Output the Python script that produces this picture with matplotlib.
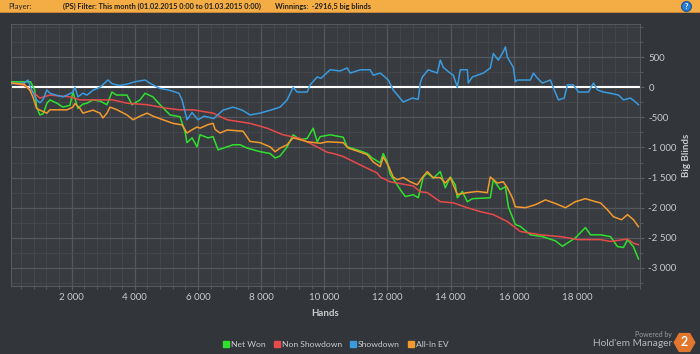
import matplotlib
matplotlib.use("Agg")
import matplotlib.pyplot as plt
from matplotlib.ticker import FixedLocator, MultipleLocator, FuncFormatter
from matplotlib.patches import Rectangle

plt.rcParams["font.family"] = ["Lato", "DejaVu Sans"]

# ---------------- data ----------------
showdown_hands = [100, 500, 615, 700, 891, 995, 1100, 1217, 1312, 1500, 1724, 1900, 2041, 2105, 2200, 2358,
                  2485, 2675, 2898, 3150, 3278, 3500, 3753, 4000, 4324, 4500, 4800, 5100, 5400, 5497, 5655,
                  5814, 6000, 6200, 6500, 6796, 7113, 7400, 7652, 7969, 8300, 8603, 8825, 9015, 9142, 9459,
                  9554, 9776, 9900, 10188, 10500, 10728, 10823, 11140, 11456, 11552, 11773, 11900, 12027,
                  12185, 12503, 12788, 12978, 13042, 13105, 13295, 13580, 13675, 13770, 13950, 14088, 14214,
                  14310, 14532, 14563, 14690, 15038, 15260, 15355, 15514, 15672, 15736, 15799, 15989, 16053,
                  16116, 16528, 16623, 16750, 16909, 17162, 17257, 17416, 17600, 17701, 17891, 18050, 18367,
                  18526, 18653, 18843, 19065, 19319, 19477, 19699, 19858, 19950]
showdown_vals = [60, 70, 120, 0, -210, -260, -200, -45, -100, -130, -160, -120, -80, 0, -160, -100,
                 -130, -50, 0, 120, 60, 30, 50, 90, 120, 60, -20, -50, -100, -210, -540,
                 -420, -540, -480, -520, -380, -330, -380, -460, -430, -380, -330, -210, 0, -80, -80,
                 40, 170, 150, 290, 270, 320, 235, 290, 290, 200, 235, 180, 120,
                 -45, -245, -180, -200, 70, 170, 290, 235, 450, 330, 250, 200, 0,
                 290, 290, 70, 170, 235, 320, 560, 450, 590, 670, 500, 330, 90,
                 120, 120, 235, 150, 70, 120, -10, -210, -180, 40, 40, -80, -80,
                 70, -45, -80, -100, -130, -210, -180, -245, -290]

nonsd_hands = [100, 500, 700, 995, 1312, 1946, 2263, 3309, 3753, 4387, 5021, 5433, 5845, 6479, 6923, 7652,
               8191, 8698, 9237, 9776, 10093, 10284, 10601, 11140, 11678, 11773, 12090, 12407, 12820, 13042,
               13263, 13675, 14088, 14532, 14943, 15355, 15799, 16211, 16845, 17479, 18050, 18748, 19065,
               19604, 19794, 19950]
nonsd_vals = [70, 30, -45, -180, -130, -160, -210, -210, -265, -290, -350, -375, -375, -430, -540, -600,
              -680, -790, -850, -990, -1080, -1100, -1150, -1290, -1425, -1490, -1570, -1600, -1640, -1735,
              -1750, -1900, -1920, -2000, -2065, -2115, -2230, -2395, -2450, -2480, -2530, -2530, -2560,
              -2520, -2590, -2615]

netwon_hands = [100, 700, 830, 891, 995, 1100, 1217, 1312, 1534, 1724, 1946, 2041, 2200, 2358, 2485, 2675,
                2900, 3119, 3278, 3420, 3753, 3912, 4165, 4324, 4577, 4799, 5116, 5433, 5592, 5655, 5814,
                5972, 6067, 6321, 6479, 6638, 6923, 7113, 7335, 7557, 7969, 8286, 8445, 8603, 8825, 9015,
                9237, 9459, 9650, 9776, 9871, 10188, 10601, 10728, 11045, 11362, 11520, 11773, 11869, 11995,
                12090, 12249, 12407, 12566, 12820, 12978, 13137, 13263, 13454, 13675, 13834, 13992, 14151,
                14214, 14373, 14532, 14690, 15260, 15355, 15577, 15736, 15831, 16053, 16211, 16528, 16909,
                17321, 17543, 17955, 18272, 18431, 18748, 19065, 19287, 19477, 19604, 19794, 19950]
netwon_vals = [90, 90, -45, -330, -460, -440, -265, -210, -265, -330, -300, -80, -350, -280, -265, -210,
               -230, -290, -80, -130, -130, -290, -210, -100, -160, -290, -460, -490, -740, -920, -840,
               -990, -790, -840, -820, -1040, -990, -955, -955, -1010, -1070, -1100, -1175, -1140, -990, -790,
               -870, -850, -680, -905, -820, -790, -830, -990, -1040, -1100, -1175, -1255, -1100, -1240,
               -1450, -1570, -1700, -1815, -1785, -1835, -1490, -1425, -1510, -1400, -1670, -1490, -1620,
               -1835, -1730, -1900, -1850, -1835, -1535, -1700, -1650, -1985, -2280, -2310, -2450, -2480,
               -2550, -2640, -2500, -2330, -2450, -2450, -2480, -2645, -2660, -2530, -2650, -2850]

allin_hands = [100, 500, 678, 773, 891, 995, 1217, 1312, 1851, 2041, 2105, 2263, 2358, 2675, 2898, 2992,
               3119, 3214, 3420, 3753, 3943, 4165, 4387, 4577, 4894, 5211, 5497, 5655, 5800, 5972, 6067,
               6321, 6479, 6543, 6701, 6923, 7430, 7652, 7969, 8286, 8445, 8603, 8825, 9015, 9237, 9459,
               9871, 10093, 10601, 10759, 11045, 11362, 11552, 11773, 11869, 12027, 12185, 12312, 12503,
               12724, 12947, 13105, 13263, 13454, 13675, 13834, 13992, 14214, 14532, 14848, 15165, 15260,
               15482, 15672, 15799, 15958, 16053, 16370, 16687, 17004, 17321, 17638, 17955, 18272, 18590,
               18748, 18970, 19160, 19414, 19604, 19794, 19950]
allin_vals = [70, 50, -50, -160, -350, -380, -430, -375, -375, -330, -270, -350, -430, -380, -430, -510,
              -430, -330, -370, -460, -540, -480, -430, -480, -540, -600, -625, -760, -710, -660, -680,
              -620, -600, -700, -760, -710, -730, -900, -920, -990, -1070, -1010, -955, -840, -870, -905,
              -930, -905, -920, -1010, -1060, -1120, -1240, -1320, -1155, -1300, -1490, -1535, -1500,
              -1570, -1620, -1500, -1400, -1500, -1500, -1590, -1500, -1780, -1750, -1730, -1750, -1490,
              -1590, -1570, -1670, -1835, -1985, -2000, -1950, -1870, -1930, -2000, -1900, -1850, -1900,
              -1920, -2035, -2150, -2200, -2115, -2200, -2315]

series_names = ["Net Won", "Non Showdown", "Showdown", "All-In EV"]
series_colors = ["#2fe02f", "#e84a4a", "#3a9be0", "#f39a2e"]

x_ticks = [2000, 4000, 6000, 8000, 10000, 12000, 14000, 16000, 18000]
y_ticks = [500, 0, -500, -1000, -1500, -2000, -2500, -3000]

header_label = "Player:"
header_filter = "(PS) Filter: This month (01.02.2015 0:00 to 01.03.2015 0:00)"
header_win = "Winnings:  -2916,5 big blinds"

# ---------------- figure ----------------
BG = "#323539"
AXBG = "#383b3f"
TXT = "#c9cbcd"

fig = plt.figure(figsize=(7.0, 3.54), dpi=100, facecolor=BG)

deco = fig.add_axes([0, 0, 1, 1], zorder=-1)
deco.set_xlim(0, 700)
deco.set_ylim(354, 0)
deco.axis("off")
deco.add_patch(Rectangle((0, 0), 700, 12, facecolor="#f4ad45", edgecolor="none"))
deco.add_patch(Rectangle((0, 12), 700, 1.2, facecolor="#c8863a", edgecolor="none"))

ax = fig.add_axes([11 / 700, 1 - 286 / 354, 629 / 700, 262 / 354])
ax.set_facecolor(AXBG)

ax.set_xlim(80, 20000)
ax.set_ylim(-3300, 1050)

ax.xaxis.set_major_locator(FixedLocator(x_ticks))
ax.xaxis.set_minor_locator(MultipleLocator(400))
ax.yaxis.set_major_locator(FixedLocator(y_ticks))
ax.yaxis.set_minor_locator(MultipleLocator(250))

ax.grid(which="major", color="#54575b", linewidth=0.9)
ax.grid(which="minor", color="#46494d", linewidth=0.6)
ax.set_axisbelow(True)

def fmt(v, pos):
    v = int(round(v))
    s = f"{abs(v):,}".replace(",", " ")
    return ("-" if v < 0 else "") + s

ax.xaxis.set_major_formatter(FuncFormatter(fmt))
ax.yaxis.set_major_formatter(FuncFormatter(fmt))

ax.yaxis.tick_right()
ax.yaxis.set_label_position("right")
ax.tick_params(axis="both", which="both", colors="#5c5f63", labelcolor=TXT, labelsize=7)
ax.tick_params(axis="both", which="major", length=3, width=0.8)
ax.tick_params(axis="both", which="minor", length=2, width=0.6)
ax.tick_params(axis="x", pad=2)
ax.tick_params(axis="y", pad=3)

for sp in ax.spines.values():
    sp.set_color("#56595d")
    sp.set_linewidth(0.8)

ax.set_xlabel("Hands", color=TXT, fontsize=7, fontweight="bold", labelpad=5)
ax.set_ylabel("Big Blinds", color=TXT, fontsize=7, fontweight="bold", labelpad=4)

ax.axhline(0, color="white", linewidth=1.5, zorder=2)

data = [(netwon_hands, netwon_vals), (nonsd_hands, nonsd_vals),
        (showdown_hands, showdown_vals), (allin_hands, allin_vals)]
order = [2, 1, 3, 0]
for i in order:
    h, v = data[i]
    ax.plot(h, v, color=series_colors[i], linewidth=1.1, label=series_names[i], zorder=3 + i * 0.1)

top = fig.add_axes([0, 0, 1, 1], zorder=10)
top.set_xlim(0, 700)
top.set_ylim(354, 0)
top.axis("off")

# header
top.text(8, 6.3, header_label, fontsize=5.6, color="#2a2a2a", va="center", ha="left")
top.text(63, 6.3, header_filter, fontsize=5.35, color="#1e1e1e", va="center", ha="left",
         fontweight="bold")
top.text(275, 6.3, header_win, fontsize=5.35, color="#1e1e1e", va="center", ha="left",
         fontweight="bold")
top.plot([686], [6], marker="o", markersize=7, markerfacecolor="#2f7fd0", markeredgecolor="#1d5ea0")
top.text(686, 6.3, "?", fontsize=5, color="white", ha="center", va="center", fontweight="bold")

# legend (manual layout, measured text widths)
renderer = fig.canvas.get_renderer()
px_per_unit = fig.bbox.width / 700.0
xpos = 226.0
ly = 344.0
for name, col in zip(series_names, series_colors):
    top.plot([xpos], [ly], marker="s", markersize=4, markerfacecolor=col, markeredgecolor=col,
             linestyle="none")
    t = top.text(xpos + 5, ly + 0.5, name, fontsize=6.1, color=TXT, ha="left", va="center")
    w = t.get_window_extent(renderer=renderer).width / px_per_unit
    xpos = xpos + 5 + w + 11

# branding
top.text(672, 335, "Powered by", fontsize=5, color="#9a9da0", ha="right", va="center")
top.text(672, 343.5, "Hold'em Manager", fontsize=7.3, color="#b5b8bb", ha="right", va="center")
top.plot([684], [342], marker="H", markersize=16, markerfacecolor="#e2762c", markeredgecolor="none")
top.text(684, 342.5, "2", fontsize=9, color="white", ha="center", va="center", fontweight="bold")

fig.savefig("out.png", dpi=100, facecolor=BG)
